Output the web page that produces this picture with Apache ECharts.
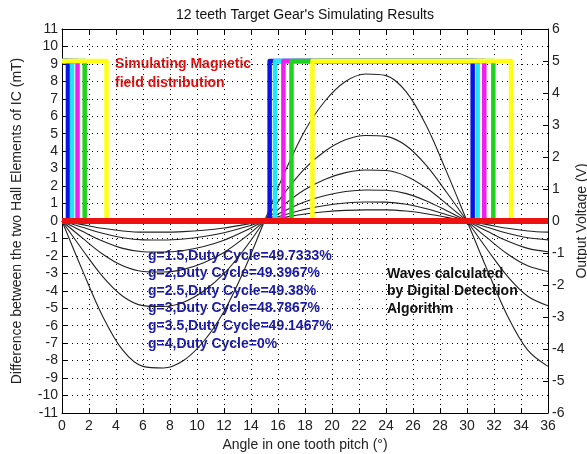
<!DOCTYPE html>
<html><head><meta charset="utf-8">
<script src="https://cdn.jsdelivr.net/npm/echarts@6/dist/echarts.min.js"></script>
<style>html,body{margin:0;padding:0;background:#fff}#c{width:587px;height:454px}</style>
</head><body><div id="c"></div>
<script>
// ---- data ----
const angles = [0,1.5,3,4.5,6,7.5,9,10.5,12,13.5,15,16.5,18,19.5,21,22.5,24,25.5,27,28.5,30,31.5,33,34.5,36];
const fieldA = [0,-2.8,-5.44,-7.4,-8.33,-8.42,-7.99,-6.89,-5.19,-2.8,0,2.8,5.19,6.89,7.99,8.42,8.33,7.4,5.44,2.8,0,-2.8,-5.44,-7.4,-8.33];
const fieldB = [0,-1.63,-3.17,-4.31,-4.85,-4.9,-4.65,-4.01,-3.02,-1.63,0,1.63,3.02,4.01,4.65,4.9,4.85,4.31,3.17,1.63,0,-1.63,-3.17,-4.31,-4.85];
const fieldC = [0,-0.97,-1.89,-2.57,-2.89,-2.92,-2.77,-2.39,-1.8,-0.97,0,0.97,1.8,2.39,2.77,2.92,2.89,2.57,1.89,0.97,0,-0.97,-1.89,-2.57,-2.89];
const fieldD = [0,-0.59,-1.15,-1.57,-1.76,-1.78,-1.69,-1.46,-1.1,-0.59,0,0.59,1.1,1.46,1.69,1.78,1.76,1.57,1.15,0.59,0,-0.59,-1.15,-1.57,-1.76];
const fieldE = [0,-0.36,-0.7,-0.96,-1.08,-1.09,-1.03,-0.89,-0.67,-0.36,0,0.36,0.67,0.89,1.03,1.09,1.08,0.96,0.7,0.36,0,-0.36,-0.7,-0.96,-1.08];
const fieldF = [0,-0.21,-0.42,-0.57,-0.64,-0.64,-0.61,-0.53,-0.4,-0.21,0,0.21,0.4,0.53,0.61,0.64,0.64,0.57,0.42,0.21,0,-0.21,-0.42,-0.57,-0.64];
const fieldCurves = [fieldA, fieldB, fieldC, fieldD, fieldE, fieldF];

const waveNames = ['g=1.5','g=2','g=2.5','g=3','g=3.5'];
const firstFall = [0.44, 0.74, 1.15, 1.68, 3.3];
const secondRise = [15.38, 15.78, 16.4, 17.0, 18.55];
const secondFall = [30.42, 30.79, 31.28, 31.95, 33.26];
const highVolt = 5;
const lowVolt = 0;
const zeroWave = [[0, 0], [36, 0]]; // g=4, duty cycle 0%

const dutyLabels = ['g=1.5,Duty Cycle=49.7333%','g=2,Duty Cycle=49.3967%','g=2.5,Duty Cycle=49.38%','g=3,Duty Cycle=48.7867%','g=3.5,Duty Cycle=49.1467%','g=4,Duty Cycle=0%'];
const xTicks = {min: 0, max: 36, step: 2};
const yLeftTicks = {min: -11, max: 11, step: 1};
const yRightTicks = {min: -6, max: 6, step: 1};

// ---- chart ----
const FONT = 'Liberation Sans, Arial, sans-serif';
const waveColors = ['#0b14e6', '#1ee6ff', '#f01ef0', '#1ed21e', '#ffff14'];
const chart = echarts.init(document.getElementById('c'), null, {renderer: 'canvas'});

const series = [];
fieldCurves.forEach((arr, i) => {
  series.push({
    type: 'line', xAxisIndex: 0, yAxisIndex: 0, smooth: 0.35, symbol: 'none',
    data: angles.map((a, k) => [a, arr[k]]),
    lineStyle: {color: '#222', width: 1.1}, z: 2
  });
});
waveNames.forEach((n, i) => {
  series.push({
    name: n, type: 'line', xAxisIndex: 0, yAxisIndex: 1, symbol: 'none',
    data: [[0, highVolt], [firstFall[i], highVolt], [firstFall[i], lowVolt], [secondRise[i], lowVolt],
           [secondRise[i], highVolt], [secondFall[i], highVolt], [secondFall[i], lowVolt], [36, lowVolt]],
    lineStyle: {color: waveColors[i], width: 4.5, join: 'round'}, z: 3 + i
  });
});
series.push({
  name: 'g=4', type: 'line', xAxisIndex: 0, yAxisIndex: 1, symbol: 'none', data: zeroWave,
  lineStyle: {color: '#ee1111', width: 6}, z: 10
});

const axisCommon = {
  axisLine: {show: true, onZero: false, lineStyle: {color: '#000', width: 1}},
  axisTick: {show: true, inside: true, length: 5, lineStyle: {color: '#000'}},
  axisLabel: {color: '#222', fontFamily: FONT, fontSize: 14, margin: 4},
  nameTextStyle: {color: '#222', fontFamily: FONT, fontSize: 14}
};

const textStyleBold = (c) => ({fill: c, font: 'bold 14px ' + FONT});
const graphics = [
  {type: 'text', x: 305, y: 8, style: {text: "12 teeth Target Gear's Simulating Results", fill: '#111', font: '14px ' + FONT, textAlign: 'center'}},
  {type: 'text', x: 115, y: 55, style: Object.assign({text: 'Simulating Magnetic\nfield distribution', lineHeight: 19}, textStyleBold('#e01010'))},
  {type: 'text', x: 387, y: 265, style: Object.assign({text: 'Waves calculated\nby Digital Detection\nAlgorithm', lineHeight: 17.6}, textStyleBold('#111'))},
  {type: 'text', x: 148, y: 247, style: Object.assign({text: dutyLabels.join('\n'), lineHeight: 17.6}, textStyleBold('#1c1ca8'))}
];

chart.setOption({
  animation: false,
  backgroundColor: '#fff',
  grid: {left: 62, right: 39, top: 29, bottom: 41, containLabel: false, outerBoundsMode: 'none'},
  xAxis: [
    Object.assign({}, axisCommon, {type: 'value', position: 'bottom', min: xTicks.min, max: xTicks.max, interval: xTicks.step,
      axisLabel: {color: '#222', fontFamily: FONT, fontSize: 14, margin: 6},
      name: 'Angle in one tooth pitch (°)', nameLocation: 'middle', nameGap: 24,
      splitLine: {show: true, lineStyle: {color: '#000', width: 1, type: [1, 4]}}}),
    Object.assign({}, axisCommon, {type: 'value', position: 'top', min: xTicks.min, max: xTicks.max, interval: xTicks.step,
      axisLabel: {show: false}, splitLine: {show: false}})
  ],
  yAxis: [
    Object.assign({}, axisCommon, {type: 'value', position: 'left', min: yLeftTicks.min, max: yLeftTicks.max, interval: yLeftTicks.step,
      name: 'Difference between the two Hall Elements of IC (mT)', nameLocation: 'middle', nameGap: 38,
      splitLine: {show: true, lineStyle: {color: '#000', width: 1, type: [1, 4]}}}),
    Object.assign({}, axisCommon, {type: 'value', position: 'right', min: yRightTicks.min, max: yRightTicks.max, interval: yRightTicks.step,
      name: 'Output Voltage (V)', nameLocation: 'middle', nameGap: 25, nameRotate: 90,
      splitLine: {show: false}})
  ],
  series: series,
  graphic: graphics
});
</script></body></html>
